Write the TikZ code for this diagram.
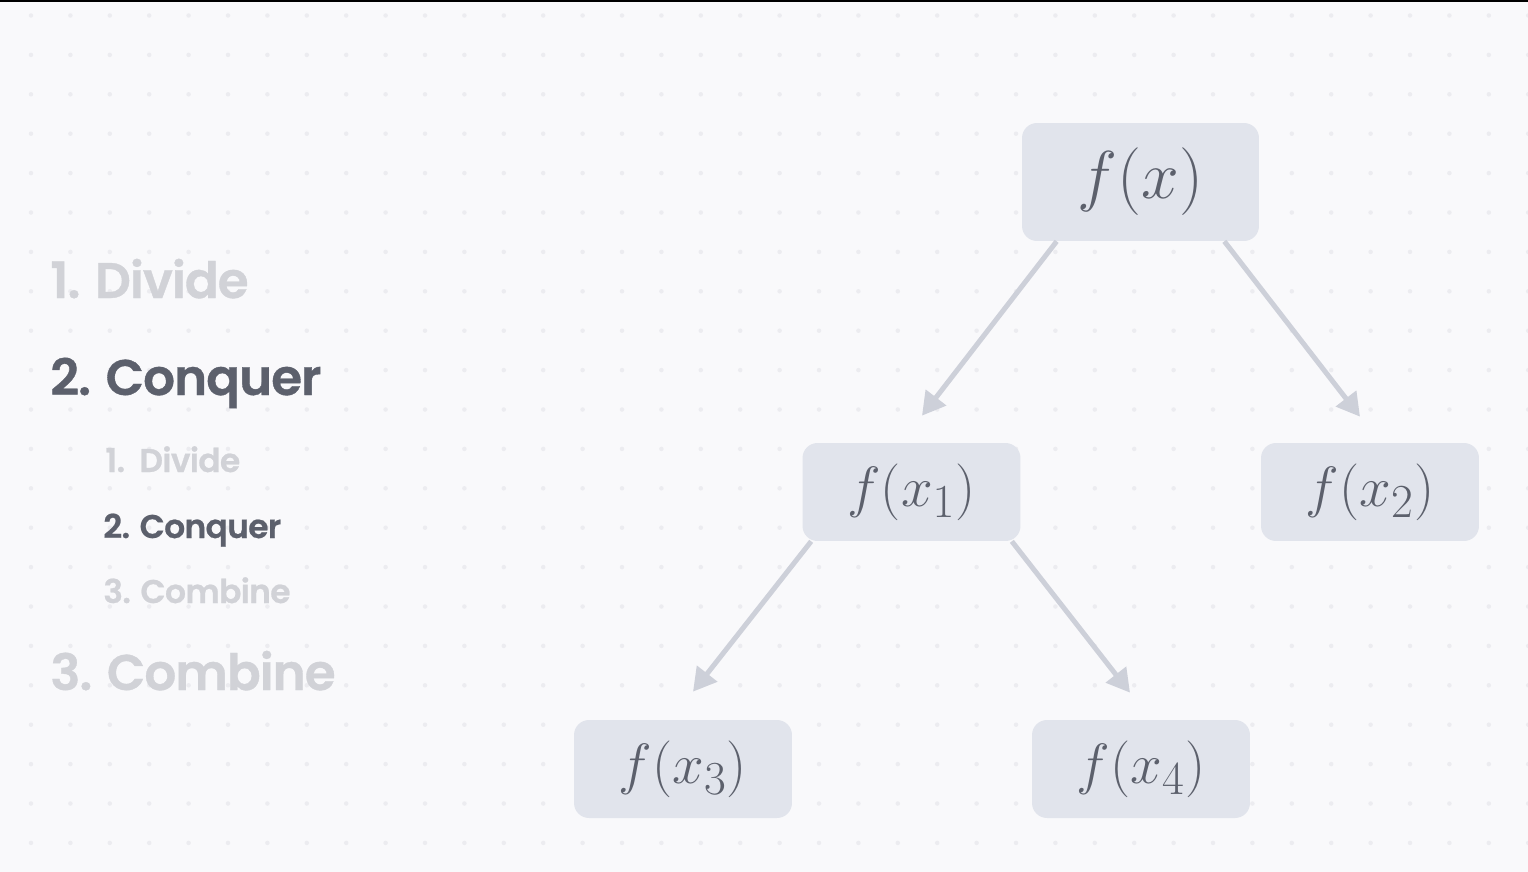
\documentclass[tikz,border=0pt]{standalone}
\usepackage{fontspec}
\newfontfamily\popfont{Poppins SemiBold}[LetterSpace=-2, FakeBold=0.7]
\usetikzlibrary{arrows.meta, positioning, calc}
\definecolor{bgpaper}{HTML}{F9F9FB}
\definecolor{dotgray}{HTML}{ECECF0}
\definecolor{boxfill}{HTML}{E1E4EC}
\definecolor{inkdark}{HTML}{5C606C}
\definecolor{inklight}{HTML}{D1D2D7}
\definecolor{arrgray}{HTML}{CDD0D9}
\tikzset{
  fbox/.style={rectangle, fill=boxfill, rounded corners=0.3cm,
               minimum width=4.36cm, minimum height=1.96cm, inner sep=0pt,
               text=inkdark, font=\fontsize{24.88}{30}\selectfont},
  rootbox/.style={fbox, minimum width=4.74cm, minimum height=2.36cm},
  arr/.style={-{Triangle[length=0.46cm, width=0.5cm]}, line width=0.1cm, draw=arrgray},
  biglbl/.style={anchor=base west, inner sep=0pt, font=\popfont\fontsize{28.5}{33}\selectfont},
  smalllbl/.style={anchor=base west, inner sep=0pt, font=\popfont\fontsize{18.7}{22}\selectfont},
}
\newcommand{\bigmath}[1]{\scalebox{1.55}{$#1$}}
\newcommand{\midmath}[1]{\scalebox{1.3}{$#1$}}

\begin{document}
\begin{tikzpicture}[x=0.02cm, y=-0.02cm]
  % paper and dot grid
  \fill[bgpaper] (0,0) rectangle (1528,872);
  \useasboundingbox (0,0) rectangle (1528,872);
  \foreach \i in {0,...,38}
    \foreach \j in {0,...,21}
      \fill[dotgray] (31+39.4*\i, 15.5+39.4*\j) circle (0.045cm);
  \fill[black] (0,0) rectangle (1528,2);

  % steps
  \node[biglbl, text=inklight] (divide)  at (50,298) {1. Divide};
  \node[biglbl, text=inkdark]  (conquer) at (50,395) {2. Conquer};
  \node[smalllbl, text=inklight] (subdiv) at (105,472) {1.\ \ Divide};
  \node[smalllbl, text=inkdark]  (subcon) at (103,538) {2. Conquer};
  \node[smalllbl, text=inklight] (subcom) at (103,603) {3. Combine};
  \node[biglbl, text=inklight] (combine) at (50,690) {3. Combine};

  % recursion tree
  \node[rootbox] (fx)  at (1140.5,182) {\bigmath{f(x)}};
  \node[fbox]    (fx1) at (911.5,492)  {\midmath{f(x_1)}};
  \node[fbox]    (fx2) at (1370,492)   {\midmath{f(x_2)}};
  \node[fbox]    (fx3) at (683,769)    {\midmath{f(x_3)}};
  \node[fbox]    (fx4) at (1141,769)   {\midmath{f(x_4)}};

  \draw[arr] ([xshift=0.7cm]fx.south west)   -- ([xshift=0.21cm, yshift=0.54cm]fx1.north);
  \draw[arr] ([xshift=-0.7cm]fx.south east)  -- ([xshift=-0.2cm, yshift=0.52cm]fx2.north);
  \draw[arr] ([xshift=0.18cm]fx1.south west) -- ([xshift=0.2cm, yshift=0.56cm]fx3.north);
  \draw[arr] ([xshift=-0.18cm]fx1.south east) -- ([xshift=-0.22cm, yshift=0.54cm]fx4.north);
\end{tikzpicture}
\end{document}
